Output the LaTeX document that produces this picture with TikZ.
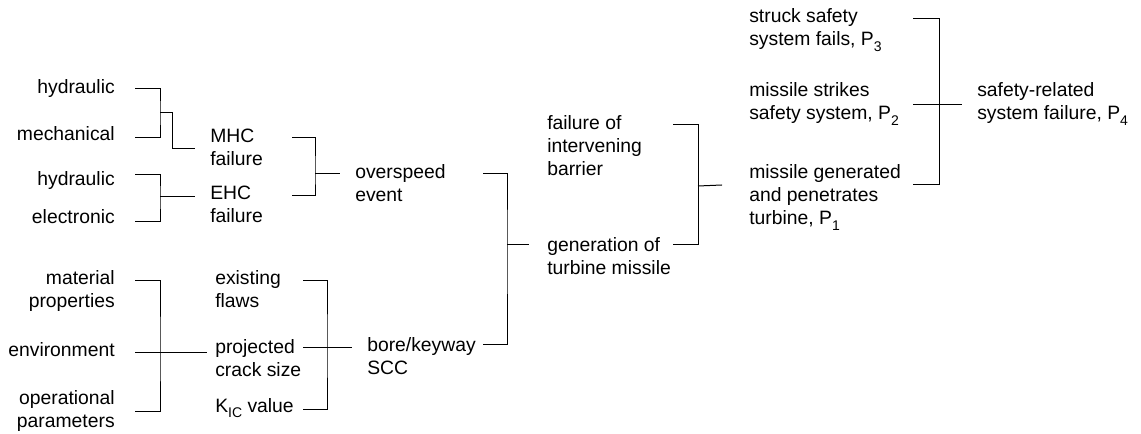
\documentclass[tikz,border=0pt]{standalone}
\usepackage{fontspec}
\setmainfont{Liberation Sans}
\usepackage{tikz}
\usetikzlibrary{calc, positioning}
\newcommand{\lowsub}[1]{\raisebox{-0.55ex}{\fontsize{10.5}{10.5}\selectfont #1}}

\begin{document}
\begin{tikzpicture}[x=0.75pt, y=-0.75pt,
    txt/.style={inner sep=0pt, font=\fontsize{14.5}{17.6}\selectfont},
    txtr/.style={txt, align=right, anchor=base east},
    txtl/.style={txt, align=left, anchor=base west},
    wire/.style={line width=0.75pt}]
    \useasboundingbox (0,0) rectangle (1141,434);

    % Cột trái
    \node[txtr] (hydA) at (115,94) {hydraulic};
    \node[txtr] (mechA) at (115,141) {mechanical};
    \node[txtr] (hydB) at (115,186) {hydraulic};
    \node[txtr] (elecB) at (115,224) {electronic};
    \node[txtr] (matC) at (115,307.5) {material\\properties};
    \node[txtr] (envC) at (115,356) {environment};
    \node[txtr] (opC) at (115,427.5) {operational\\parameters};

    % Cột giữa
    \node[txtl] (mhc) at (210,165.5) {MHC\\failure};
    \node[txtl] (ehc) at (210,222.5) {EHC\\failure};
    \node[txtl] (flaw) at (215,307.5) {existing\\flaws};
    \node[txtl] (crack) at (215,376.5) {projected\\crack size};
    \node[txtl] (kic) at (215,412) {K\lowsub{IC} value};
    \node[txtl] (over) at (355,201.5) {overspeed\\event};
    \node[txtl] (scc) at (367,374.5) {bore/keyway\\SCC};
    \node[txtl] (barr) at (547,176) {failure of\\intervening\\barrier};
    \node[txtl] (gen) at (547,274.5) {generation of\\turbine missile};

    % Cột phải
    \node[txtl] (p3) at (749,45.5) {struck safety\\system fails, P\lowsub{3}};
    \node[txtl] (p2) at (749,119.5) {missile strikes\\safety system, P\lowsub{2}};
    \node[txtl] (p1) at (749,225) {missile generated\\and penetrates\\turbine, P\lowsub{1}};
    \node[txtl] (p4) at (977,119.5) {safety-related\\system failure, P\lowsub{4}};

    % Điểm nối
    \coordinate (jA) at (160,113);
    \coordinate (jB) at (160,197);
    \coordinate (jC) at (160,352);
    \coordinate (jM) at (315,174);
    \coordinate (jF) at (327,347);
    \coordinate (jO) at (507,245);
    \coordinate (jG) at (698,186);
    \coordinate (jP) at (939,105);

    % Nhánh
    \draw[wire] ([shift={(20,-5)}]hydA.base east) -| (jA) |- ([shift={(20,-3)}]mechA.base east);
    \draw[wire] (jA) -- ++(12,0) |- ([shift={(-15,-16.5)}]mhc.base west);
    \draw[wire] ([shift={(20,-11)}]hydB.base east) -| (jB) |- ([shift={(20,-2)}]elecB.base east);
    \draw[wire] (jB) -- ([shift={(-15,-25.5)}]ehc.base west);
    \draw[wire] ([shift={(20,-26.5)}]matC.base east) -| (jC) |- ([shift={(20,-16.5)}]opC.base east);
    \draw[wire] ([shift={(20,-4)}]envC.base east) -- ([shift={(-8,-24.5)}]crack.base west);

    \draw[wire] ([shift={(82,-27.5)}]mhc.base west) -| (jM) |- ([shift={(82,-26.5)}]ehc.base west);
    \draw[wire] (jM) -- ([shift={(-15,-27.5)}]over.base west);
    \draw[wire] ([shift={(88,-26.5)}]flaw.base west) -| (jF) |- ([shift={(88,-3)}]kic.base west);
    \draw[wire] ([shift={(88,-29.5)}]crack.base west) -- ([shift={(-15,-27.5)}]scc.base west);

    \draw[wire] ([shift={(128,-27.5)}]over.base west) -| (jO) |- ([shift={(116,-30.5)}]scc.base west);
    \draw[wire] (jO) -- ([shift={(-18,-29.5)}]gen.base west);
    \draw[wire] ([shift={(126,-51)}]barr.base west) -| (jG) |- ([shift={(126,-29.5)}]gen.base west);
    \draw[wire] (jG) -- ([shift={(-27,-40)}]p1.base west);
    \draw[wire] ([shift={(164,-26.5)}]p3.base west) -| (jP) |- ([shift={(164,-40)}]p1.base west);
    \draw[wire] ([shift={(164,-14.5)}]p2.base west) -- ([shift={(-15,-14.5)}]p4.base west);
\end{tikzpicture}
\end{document}
